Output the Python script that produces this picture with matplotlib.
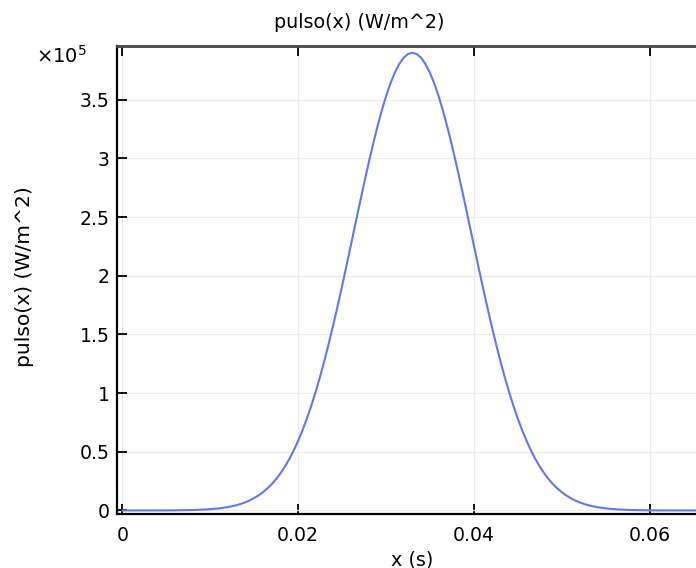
import matplotlib
matplotlib.use("Agg")
import matplotlib.pyplot as plt

# x in seconds
x_s = [0.000, 0.001, 0.002, 0.003, 0.004, 0.005, 0.006, 0.007, 0.008, 0.009,
       0.010, 0.011, 0.012, 0.0125, 0.013, 0.0135, 0.014, 0.0145, 0.015, 0.0155,
       0.016, 0.0165, 0.017, 0.0175, 0.018, 0.0185, 0.019, 0.0195, 0.020, 0.0205,
       0.021, 0.0215, 0.022, 0.0225, 0.023, 0.0235, 0.024, 0.0245, 0.025, 0.0255,
       0.026, 0.0265, 0.027, 0.0275, 0.028, 0.0285, 0.029, 0.0295, 0.030, 0.0305,
       0.031, 0.0315, 0.032, 0.0325, 0.033,
       0.0335, 0.034, 0.0345, 0.035, 0.0355, 0.036, 0.0365, 0.037, 0.0375, 0.038,
       0.0385, 0.039, 0.0395, 0.040, 0.0405, 0.041, 0.0415, 0.042, 0.0425, 0.043,
       0.0435, 0.044, 0.0445, 0.045, 0.0455, 0.046, 0.0465, 0.047, 0.0475, 0.048,
       0.0485, 0.049, 0.0495, 0.050, 0.0505, 0.051, 0.0515, 0.052, 0.0525, 0.053,
       0.0535, 0.054, 0.055, 0.056, 0.057, 0.058, 0.059, 0.060, 0.061, 0.062,
       0.063, 0.064, 0.065, 0.066]

# pulso(x) in units of 1e5 W/m^2
pulso_1e5 = [0.00002, 0.00004, 0.0001, 0.0002, 0.0003, 0.0006, 0.0012, 0.0021, 0.0037, 0.0064,
             0.0108, 0.0178, 0.0287, 0.0362, 0.0453, 0.0565, 0.0699, 0.0862, 0.106, 0.129,
             0.156, 0.188, 0.225, 0.268, 0.318, 0.375, 0.439, 0.512, 0.594, 0.684,
             0.784, 0.894, 1.013, 1.142, 1.280, 1.427, 1.582, 1.744, 1.912, 2.084,
             2.260, 2.436, 2.612, 2.784, 2.952, 3.113, 3.263, 3.403, 3.528, 3.638,
             3.730, 3.803, 3.857, 3.889, 3.900,
             3.889, 3.857, 3.803, 3.730, 3.638, 3.528, 3.403, 3.263, 3.113, 2.952,
             2.784, 2.612, 2.436, 2.260, 2.084, 1.912, 1.744, 1.582, 1.427, 1.280,
             1.142, 1.013, 0.894, 0.784, 0.684, 0.594, 0.512, 0.439, 0.375, 0.318,
             0.268, 0.225, 0.188, 0.156, 0.129, 0.106, 0.0862, 0.0699, 0.0565, 0.0453,
             0.0362, 0.0287, 0.0178, 0.0108, 0.0064, 0.0037, 0.0021, 0.0012, 0.0006, 0.0003,
             0.0002, 0.0001, 0.00004, 0.00002]

x_ticks = [0.0, 0.02, 0.04, 0.06]
x_tick_labels = ["0", "0.02", "0.04", "0.06"]
y_ticks = [0.0, 0.5, 1.0, 1.5, 2.0, 2.5, 3.0, 3.5]
y_tick_labels = ["0", "0.5", "1", "1.5", "2", "2.5", "3", "3.5"]

title = "pulso(x) (W/m^2)"
xlabel = "x (s)"
ylabel = "pulso(x) (W/m^2)"

plt.rcParams["font.family"] = ["DejaVu Sans"]
plt.rcParams["mathtext.fontset"] = "dejavusans"

W, H = 696, 568
fig = plt.figure(figsize=(W / 100, H / 100), dpi=100)

left, right, top, bottom = 116.7, 708.0, 45.7, 513.5
ax = fig.add_axes([left / W, 1 - bottom / H, (right - left) / W, (bottom - top) / H])

ax.plot(x_s, pulso_1e5, color="#6078ee", lw=1.5, solid_capstyle="round", solid_joinstyle="round")

ax.set_xlim(-0.00066, 0.06666)
ax.set_ylim(-0.026, 3.96)

ax.set_xticks(x_ticks)
ax.set_xticklabels(x_tick_labels)
ax.set_yticks(y_ticks)
ax.set_yticklabels(y_tick_labels)

ax.grid(True, color="#ebebeb", lw=0.9)
ax.set_axisbelow(True)

ax.tick_params(axis="both", direction="in", length=7.2, width=1.3, color="black",
               labelsize=13.6, top=True, right=True)
ax.tick_params(axis="x", pad=9)
ax.tick_params(axis="y", pad=5)

for side in ["left", "bottom"]:
    ax.spines[side].set_color("black")
    ax.spines[side].set_linewidth(1.6)
ax.spines["top"].set_color("#454545")
ax.spines["top"].set_linewidth(2.0)
ax.spines["right"].set_color("#454545")
ax.spines["right"].set_linewidth(2.0)

fig.text(359 / W, 1 - 28.5 / H, title, ha="center", va="baseline", fontsize=13.8)
fig.text(412 / W, 1 - 565 / H, xlabel, ha="center", va="baseline", fontsize=13.8)
fig.text(25 / W, 1 - 277 / H, ylabel, ha="center", va="center", rotation=90, fontsize=14.6)
fig.text(36 / W, 1 - 63 / H, r"$\times10^{5}$", ha="left", va="baseline", fontsize=14)

fig.savefig("out.png", dpi=100)
